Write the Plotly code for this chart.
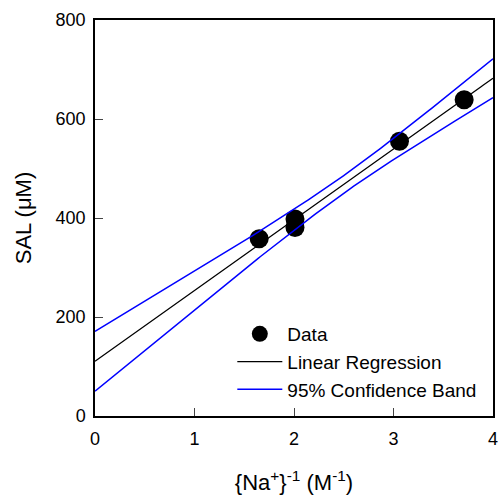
import numpy as np
import plotly.graph_objects as go

# Data
na_inv = [1.65, 2.01, 2.01, 3.06, 3.71]          # {Na+}^-1 (M^-1)
sal = [358, 398, 381, 555, 639]                 # SAL (uM)
x_ticks = [0, 1, 2, 3, 4]
y_ticks = [0, 200, 400, 600, 800]
t_crit = 3.182  # t(0.975, df=3)

# Linear regression and 95% confidence band computed from the data
x = np.array(na_inv, dtype=float)
y = np.array(sal, dtype=float)
n = len(x)
slope, intercept = np.polyfit(x, y, 1)
resid = y - (slope * x + intercept)
s = np.sqrt(np.sum(resid ** 2) / (n - 2))
sxx = np.sum((x - x.mean()) ** 2)
xg = np.linspace(x_ticks[0], x_ticks[-1], 201)
yg = slope * xg + intercept
half = t_crit * s * np.sqrt(1.0 / n + (xg - x.mean()) ** 2 / sxx)

fig = go.Figure()
fig.add_trace(go.Scatter(x=na_inv, y=sal, mode="markers", name="Data",
                         marker=dict(size=19, color="black")))
fig.add_trace(go.Scatter(x=xg, y=yg, mode="lines", name="Linear Regression",
                         line=dict(color="black", width=1.3)))
fig.add_trace(go.Scatter(x=xg, y=yg + half, mode="lines", name="95% Confidence Band",
                         line=dict(color="#0000FF", width=1.5), legendgroup="cb"))
fig.add_trace(go.Scatter(x=xg, y=yg - half, mode="lines", showlegend=False,
                         line=dict(color="#0000FF", width=1.5), legendgroup="cb"))

font = "Liberation Sans, Arial, sans-serif"
fig.update_layout(
    width=503, height=504,
    margin=dict(l=95, r=10, t=20, b=88, autoexpand=False),
    paper_bgcolor="white", plot_bgcolor="white",
    font=dict(family=font, color="black", size=18),
    showlegend=True,
    legend=dict(x=0.345, y=0.255, xanchor="left", yanchor="top",
                bgcolor="rgba(0,0,0,0)", font=dict(size=19), itemwidth=45,
                tracegroupgap=0),
    xaxis=dict(range=[0, 4], tickvals=x_ticks, ticks="inside", ticklen=8,
               showline=True, linecolor="black", linewidth=1.5, mirror=True,
               showgrid=False, zeroline=False, tickfont=dict(size=18),
               ticklabelstandoff=6,
               title=dict(text="{Na<sup>+</sup>}<sup>-1</sup> (M<sup>-1</sup>)",
                          font=dict(size=22), standoff=26)),
    yaxis=dict(range=[0, 800], tickvals=y_ticks, ticks="inside", ticklen=8,
               showline=True, linecolor="black", linewidth=1.5, mirror=True,
               showgrid=False, zeroline=False, tickfont=dict(size=18),
               ticklabelstandoff=4,
               title=dict(text="SAL (μM)", font=dict(size=22), standoff=18)),
)
fig.write_html("out.html")
